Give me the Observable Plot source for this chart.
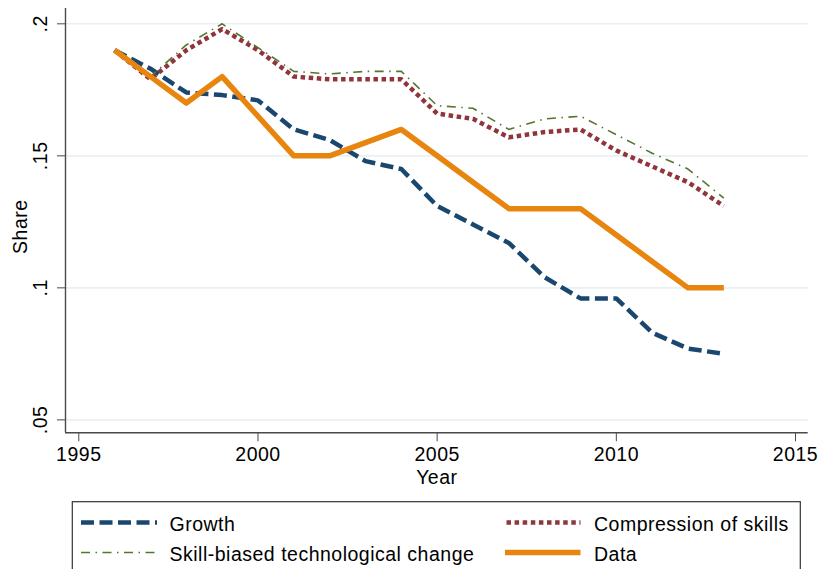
<!DOCTYPE html>
<html>
<head>
<meta charset="utf-8">
<script src="https://cdn.jsdelivr.net/npm/d3@7"></script>
<script src="https://cdn.jsdelivr.net/npm/@observablehq/plot@0.6"></script>
<style>
  body { margin: 0; background: #fff; }
  #chart svg { display: block; }
</style>
</head>
<body>
<div id="chart"></div>
<script>
const years = [1996, 1997, 1998, 1999, 2000, 2001, 2002, 2003, 2004, 2005, 2006, 2007, 2008, 2009, 2010, 2011, 2012, 2013];
const growth = [0.190, 0.183, 0.174, 0.173, 0.171, 0.160, 0.156, 0.148, 0.145, 0.131, 0.124, 0.117, 0.104, 0.096, 0.096, 0.083, 0.077, 0.075];
const compression = [0.190, 0.179, 0.190, 0.198, 0.190, 0.180, 0.179, 0.179, 0.179, 0.166, 0.164, 0.157, 0.159, 0.160, 0.152, 0.146, 0.140, 0.131];
const sbtc = [0.190, 0.180, 0.192, 0.200, 0.191, 0.182, 0.181, 0.182, 0.182, 0.169, 0.168, 0.160, 0.164, 0.165, 0.158, 0.151, 0.145, 0.134];
const dataShare = [0.190, 0.180, 0.170, 0.180, 0.165, 0.150, 0.150, 0.155, 0.160, 0.150, 0.140, 0.130, 0.130, 0.130, 0.120, 0.110, 0.100, 0.100];

const xTicks = [1995, 2000, 2005, 2010, 2015];
const yTicks = [0.05, 0.1, 0.15, 0.2];
const seriesNames = ["Growth", "Compression of skills", "Skill-biased technological change", "Data"];

const styles = {
  "Growth": {stroke: "#1a476f", width: 4.5, dash: "13,5.5"},
  "Compression of skills": {stroke: "#90353b", width: 4.5, dash: "4.5,3.6"},
  "Skill-biased technological change": {stroke: "#55752f", width: 1.6, dash: "9,5.5,1.5,5.5"},
  "Data": {stroke: "#e8850e", width: 5.5, dash: null}
};
const valuesByName = {
  "Growth": growth,
  "Compression of skills": compression,
  "Skill-biased technological change": sbtc,
  "Data": dataShare
};

const rows = seriesNames.flatMap(name => years.map((yr, i) => ({series: name, year: yr, value: valuesByName[name][i]})));

const W = 820, H = 569;
const mL = 65, mR = 12.3, mT = 8, mB = 136.7;
const xDomain = [1994.629, 2015.354];
const yDomain = [0.0451, 0.2058];
const FONT = "'Liberation Sans', Arial, Helvetica, sans-serif";
const FS = 19.5;
const fmtY = d => String(d).replace(/^0/, "");

const marks = [
  Plot.gridY(yTicks, {stroke: "#e9f1f3", strokeOpacity: 1, strokeWidth: 1.6}),
  Plot.ruleX([xDomain[0]], {stroke: "#4a4a4a", strokeWidth: 1.4}),
  Plot.ruleY([yDomain[0]], {stroke: "#4a4a4a", strokeWidth: 1.4}),
  Plot.axisX(xTicks, {tickSize: 9, tickPadding: 5, tickFormat: d => String(d), fontSize: FS, label: null, stroke: "#4a4a4a", fill: "#000"}),
  Plot.axisY(yTicks, {tickSize: 8, tickFormat: () => "", label: null, stroke: "#4a4a4a"}),
  Plot.text(yTicks, {y: d => d, text: fmtY, frameAnchor: "left", dx: -19, rotate: -90, textAnchor: "middle", lineAnchor: "bottom", fontSize: FS, fill: "#000"}),
  ...seriesNames.map(name => Plot.line(rows.filter(r => r.series === name), {
    x: "year", y: "value",
    stroke: styles[name].stroke,
    strokeWidth: styles[name].width,
    strokeDasharray: styles[name].dash,
    strokeLinecap: "butt",
    strokeLinejoin: "round"
  })),
  Plot.text(["Year"], {text: d => d, frameAnchor: "bottom", dy: 51, lineAnchor: "bottom", fontSize: FS, fill: "#000"}),
  Plot.text(["Share"], {text: d => d, frameAnchor: "left", dx: -39, dy: 6, rotate: -90, textAnchor: "middle", lineAnchor: "bottom", fontSize: FS, fill: "#000"})
];

const chart = Plot.plot({
  width: W, height: H,
  marginLeft: mL, marginRight: mR, marginTop: mT, marginBottom: mB,
  x: {domain: xDomain, axis: null},
  y: {domain: yDomain, axis: null},
  style: {fontFamily: FONT, letterSpacing: "0.5px", background: "#fff", color: "#000"},
  marks
});
document.getElementById("chart").appendChild(chart);

// Legend box below the plot
const svg = d3.select(chart);
const lg = svg.append("g")
  .attr("font-family", FONT)
  .attr("font-size", FS)
  .attr("text-anchor", "start")
  .style("letter-spacing", "0.5px");
lg.append("rect").attr("x", 72.3).attr("y", 501.7).attr("width", 728).attr("height", 90)
  .attr("fill", "none").attr("stroke", "#333").attr("stroke-width", 1.2);
const legendItems = [
  {name: "Growth", x1: 81, x2: 157, tx: 169.5, y: 522.5, ty: 531},
  {name: "Compression of skills", x1: 506.5, x2: 580.5, tx: 594, y: 522.5, ty: 531},
  {name: "Skill-biased technological change", x1: 81, x2: 157, tx: 169.5, y: 552.5, ty: 561},
  {name: "Data", x1: 505, x2: 580.5, tx: 594, y: 552.5, ty: 561}
];
for (const it of legendItems) {
  const s = styles[it.name];
  const ln = lg.append("line").attr("x1", it.x1).attr("x2", it.x2).attr("y1", it.y).attr("y2", it.y)
    .attr("stroke", s.stroke).attr("stroke-width", s.width).attr("stroke-linecap", "butt");
  if (s.dash) ln.attr("stroke-dasharray", s.dash);
  lg.append("text").attr("x", it.tx).attr("y", it.ty).attr("fill", "#000")
    .attr("text-anchor", "start").text(it.name);
}
</script>
</body>
</html>
